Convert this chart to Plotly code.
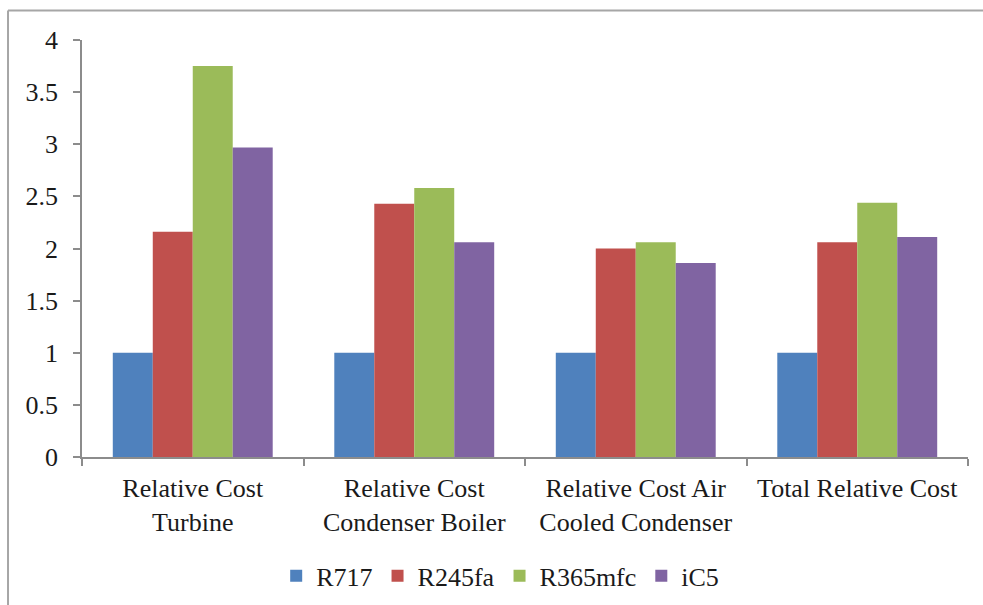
import plotly.graph_objects as go

categories = ["Relative Cost<br>Turbine", "Relative Cost<br>Condenser Boiler",
              "Relative Cost Air<br>Cooled Condenser", "Total Relative Cost"]
r717 = [1.0, 1.0, 1.0, 1.0]
r245fa = [2.16, 2.43, 2.00, 2.06]
r365mfc = [3.75, 2.58, 2.06, 2.44]
ic5 = [2.97, 2.06, 1.86, 2.11]
series_names = ["R717", "R245fa", "R365mfc", "iC5"]
colors = ["#4F81BD", "#C0504D", "#9BBB59", "#8064A2"]
y_ticks = [0, 0.5, 1, 1.5, 2, 2.5, 3, 3.5, 4]
y_tick_text = ["0", "0.5", "1", "1.5", "2", "2.5", "3", "3.5", "4"]

FONT = "Liberation Serif"
AXIS = "#8C8C8C"
TXT = "#1a1a1a"

fig = go.Figure()
for name, vals, col in zip(series_names, [r717, r245fa, r365mfc, ic5], colors):
    fig.add_trace(go.Bar(x=categories, y=vals, name=name,
                         marker=dict(color=col, line=dict(width=0))))

fig.update_layout(
    width=983, height=605,
    margin=dict(l=82, r=15, t=40, b=148, autoexpand=False),
    paper_bgcolor="white", plot_bgcolor="white",
    barmode="group", bargap=0.278, bargroupgap=0,
    font=dict(family=FONT, size=26, color=TXT),
    showlegend=True,
    legend=dict(orientation="h", x=0.472, xanchor="center", y=-0.285, yanchor="middle",
                font=dict(family=FONT, size=26, color=TXT),
                itemwidth=30, tracegroupgap=0),
    xaxis=dict(showline=True, linecolor=AXIS, linewidth=1.5,
               ticks="outside", ticklen=7, tickcolor=AXIS, tickwidth=1.5,
               tickson="boundaries", showgrid=False, zeroline=False,
               ticklabelstandoff=7,
               tickfont=dict(family=FONT, size=26, color=TXT)),
    yaxis=dict(range=[0, 4], tickvals=y_ticks, ticktext=y_tick_text,
               showline=True, linecolor=AXIS, linewidth=1.5,
               ticks="outside", ticklen=7, tickcolor=AXIS, tickwidth=1.5,
               showgrid=False, zeroline=False, ticklabelstandoff=10,
               tickfont=dict(family=FONT, size=26, color=TXT)),
    shapes=[
        dict(type="line", xref="paper", yref="paper", x0=-0.0835, x1=1.02, y0=1.071, y1=1.071,
             line=dict(color="#A6A6A6", width=2)),
        dict(type="line", xref="paper", yref="paper", x0=-0.0835, x1=-0.0835, y0=1.071, y1=-0.36,
             line=dict(color="#A6A6A6", width=2)),
    ],
)

fig.write_html("out.html", config={"displayModeBar": False},
               post_script="document.body.style.margin='0';")
